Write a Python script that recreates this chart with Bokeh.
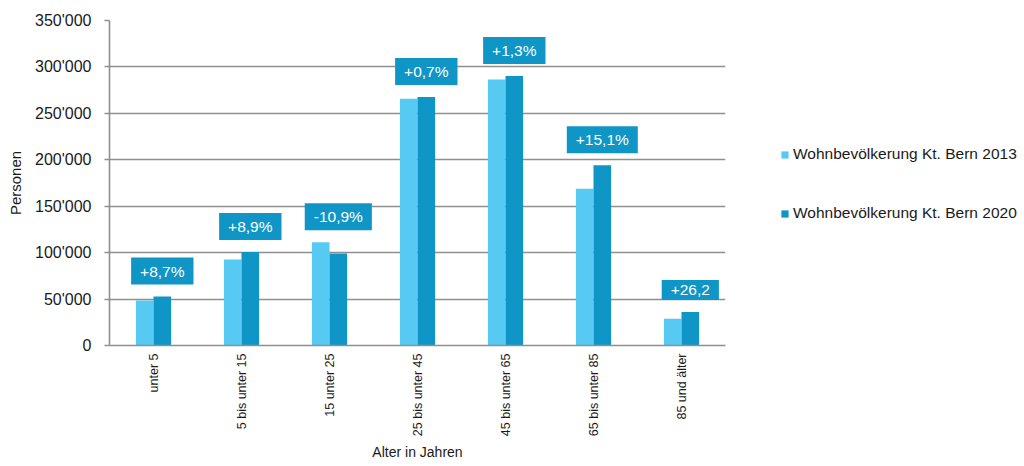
import math
from bokeh.plotting import figure
from bokeh.models import (ColumnDataSource, FactorRange, FixedTicker, Legend, LegendItem)
from bokeh.transform import dodge
from bokeh.core.properties import value
from bokeh.embed import file_html
from bokeh.resources import INLINE

categories = ["unter 5", "5 bis unter 15", "15 unter 25", "25 bis unter 45",
              "45 bis unter 65", "65 bis unter 85", "85 und älter"]
pop_2013 = [48500, 92600, 111200, 265700, 286500, 168700, 28700]
pop_2020 = [52700, 100800, 99100, 267600, 290200, 194200, 36200]
change_labels = ["+8,7%", "+8,9%", "-10,9%", "+0,7%", "+1,3%", "+15,1%", "+26,2"]
y_ticks = [0, 50000, 100000, 150000, 200000, 250000, 300000, 350000]
y_tick_labels = ["0", "50'000", "100'000", "150'000", "200'000", "250'000", "300'000", "350'000"]
series_names = ["Wohnbevölkerung Kt. Bern 2013", "Wohnbevölkerung Kt. Bern 2020"]

LIGHT = "#57CAF4"
DARK = "#1096C6"
FONT = "Liberation Sans"
GRID = "#8f8f8f"

src = ColumnDataSource(dict(
    cat=categories,
    v2013=pop_2013,
    v2020=pop_2020,
    top=[max(a, b) for a, b in zip(pop_2013, pop_2020)],
    lab=change_labels,
))

p = figure(x_range=FactorRange(*categories), y_range=(0, 350000),
           frame_width=616, frame_height=325,
           output_backend="svg", toolbar_location=None,
           min_border_left=109, min_border_right=299, min_border_top=20,
           min_border_bottom=121)
p.outline_line_color = None
p.background_fill_color = "white"
p.border_fill_color = "white"

r1 = p.vbar(x=dodge("cat", -0.1, range=p.x_range), top="v2013", width=0.2,
            source=src, fill_color=LIGHT, line_color=None)
r2 = p.vbar(x=dodge("cat", 0.1, range=p.x_range), top="v2020", width=0.2,
            source=src, fill_color=DARK, line_color=None)

p.text(x=dodge("cat", 0.1, range=p.x_range), y="top", text="lab", source=src,
       text_align="center", text_baseline="bottom", y_offset=-12,
       text_color="white", text_font=value(FONT), text_font_size="15.5px",
       background_fill_color=DARK, padding=(9, 5))

# grid
p.xgrid.grid_line_color = None
p.ygrid.grid_line_color = GRID
p.ygrid.grid_line_width = 1.6

# y axis
p.yaxis.ticker = FixedTicker(ticks=y_ticks)
p.yaxis.major_label_overrides = {t: l for t, l in zip(y_ticks, y_tick_labels)}
p.yaxis.axis_label = "Personen"
p.yaxis.axis_line_color = GRID
p.yaxis.axis_line_width = 1.6
p.yaxis.major_tick_line_color = GRID
p.yaxis.major_tick_line_width = 1.6
p.yaxis.major_tick_out = 5
p.yaxis.major_tick_in = 0
p.yaxis.minor_tick_line_color = None
p.yaxis.major_label_standoff = 13
p.yaxis.axis_label_standoff = 8
p.yaxis.major_label_text_font = FONT
p.yaxis.major_label_text_font_size = "16px"
p.yaxis.major_label_text_color = "#1a1a1a"
p.yaxis.axis_label_text_font = FONT
p.yaxis.axis_label_text_font_size = "15px"
p.yaxis.axis_label_text_font_style = "normal"
p.yaxis.axis_label_text_color = "#1a1a1a"

# x axis
p.xaxis.axis_label = "Alter in Jahren"
p.xaxis.axis_line_color = GRID
p.xaxis.axis_line_width = 1.6
p.xaxis.major_tick_line_color = None
p.xaxis.major_tick_out = 0
p.xaxis.major_tick_in = 0
p.xaxis.minor_tick_line_color = None
p.xaxis.major_label_orientation = math.pi / 2
p.xaxis.major_label_standoff = 8
p.xaxis.axis_label_standoff = 5
p.xaxis.major_label_text_font = FONT
p.xaxis.major_label_text_font_size = "12.5px"
p.xaxis.major_label_text_color = "#1a1a1a"
p.xaxis.axis_label_text_font = FONT
p.xaxis.axis_label_text_font_size = "14px"
p.xaxis.axis_label_text_font_style = "normal"
p.xaxis.axis_label_text_color = "#1a1a1a"

legend = Legend(items=[LegendItem(label=series_names[0], renderers=[r1]),
                       LegendItem(label=series_names[1], renderers=[r2])],
                location=(55, 122), orientation="vertical")
legend.glyph_width = 9
legend.glyph_height = 9
legend.label_height = 20
legend.spacing = 39
legend.padding = 0
legend.margin = 0
legend.label_standoff = 4
legend.border_line_color = None
legend.background_fill_alpha = 0
legend.label_text_font = FONT
legend.label_text_font_size = "15.5px"
legend.label_text_color = "#1a1a1a"
legend.label_text_baseline = "middle"
p.add_layout(legend, "right")

open("out.html", "w").write(file_html(p, INLINE))
